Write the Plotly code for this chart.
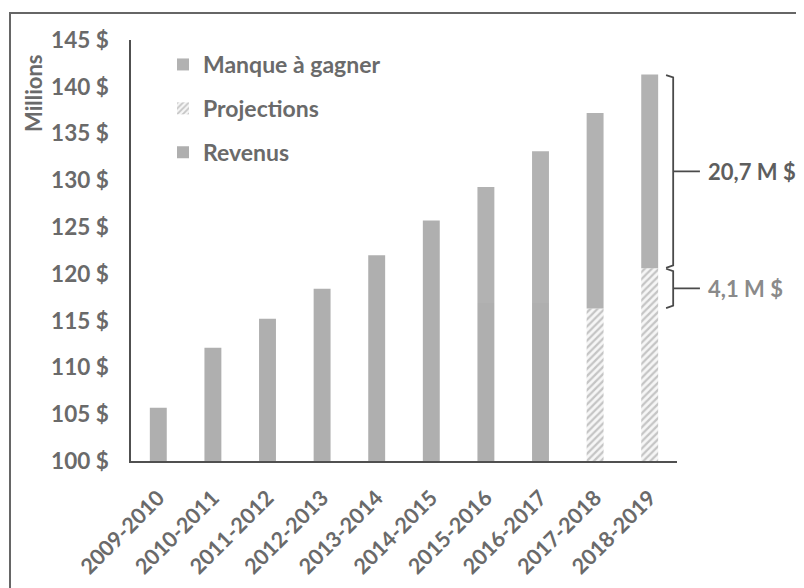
import plotly.graph_objects as go

categories = ["2009-2010", "2010-2011", "2011-2012", "2012-2013", "2013-2014",
              "2014-2015", "2015-2016", "2016-2017", "2017-2018", "2018-2019"]
revenus = [105.7, 112.1, 115.2, 118.4, 122.0, 125.7, 116.9, 116.9, None, None]
projections = [None, None, None, None, None, None, None, None, 116.3, 120.6]
manque = [None, None, None, None, None, None, 12.4, 16.2, 20.9, 20.7]
ytick_vals = [100, 105, 110, 115, 120, 125, 130, 135, 140, 145]
ytick_text = [f"{v} $" for v in ytick_vals]
bracket_labels = ["20,7 M $", "4,1 M $"]

FONT = "Lato"
TXT = "#6a6a6a"
OFF = 8  # page body margin
W, H = 804 - OFF, 588 - OFF
L, T = 131 - OFF, 40 - OFF
R, B = W - (677 - OFF), H - (461 - OFF)
N = len(categories)
PW, PH = W - L - R, H - T - B

def px(p):
    return (p - OFF - L) / PW

def py(p):
    return 1 - (p - OFF - T) / PH

def cx(c):
    return (c + 0.5) / N

fig = go.Figure()
fig.add_trace(go.Bar(
    x=categories, y=[(v - 100) if v is not None else None for v in revenus],
    base=100, name="Revenus", marker=dict(color="#afafaf", line=dict(width=0)),
    legendrank=3, legendgroup="g3", offsetgroup="a"))
fig.add_trace(go.Bar(
    x=categories, y=[(v - 100) if v is not None else None for v in projections],
    base=100, name="Projections",
    marker=dict(color="white", line=dict(width=0),
                pattern=dict(shape="/", fgcolor="#949494", bgcolor="#f6f6f6", size=5, solidity=0.45)),
    legendrank=2, legendgroup="g2", offsetgroup="a"))
manque_base = []
for r, p, m in zip(revenus, projections, manque):
    manque_base.append((r if r is not None else p) if m is not None else None)
fig.add_trace(go.Bar(
    x=categories, y=manque, base=manque_base, name="Manque à gagner",
    marker=dict(color="#b2b2b2", line=dict(width=0)),
    legendrank=1, legendgroup="g1", offsetgroup="a"))

fig.update_layout(
    width=W, height=H,
    margin=dict(l=L, r=R, t=T, b=B),
    paper_bgcolor="white", plot_bgcolor="white",
    barmode="overlay", bargap=0.69,
    font=dict(family=FONT, color=TXT),
    showlegend=True,
    legend=dict(x=px(163), y=py(43), xanchor="left", yanchor="top",
                traceorder="grouped", tracegroupgap=11,
                font=dict(family=FONT, size=23, color=TXT, weight="bold"),
                bgcolor="rgba(0,0,0,0)"),
)
fig.update_xaxes(
    type="category", range=[-0.5, N - 0.5], tickangle=-45, automargin=False,
    showline=True, linecolor="#505050", linewidth=1.5, showgrid=False,
    ticks="", ticklabelstandoff=14,
    tickfont=dict(family=FONT, size=21.5, color=TXT, weight="bold"))
fig.update_yaxes(
    range=[100, 145], tickvals=ytick_vals, ticktext=ytick_text, automargin=False,
    showline=True, linecolor="#505050", linewidth=1.5, showgrid=False,
    ticks="", ticklabelstandoff=16, zeroline=False,
    tickfont=dict(family=FONT, size=22.5, color=TXT, weight="bold"))

fig.add_annotation(text="<b>Millions</b>", textangle=-90, xref="paper", yref="paper",
                   x=px(33), y=py(94), xanchor="center", yanchor="middle",
                   showarrow=False, font=dict(family=FONT, size=22, color=TXT))

top_total = projections[9] + manque[9]
brackets = [(projections[9], top_total, bracket_labels[0], "#5e5e5e"),
            (projections[8], projections[9], bracket_labels[1], "#8a8a8a")]
xh, xv, xt, xl = cx(9.30), cx(9.43), cx(9.92), cx(10.04)
for y0, y1, lab, col in brackets:
    ym = (y0 + y1) / 2
    path = (f"M {xh},{y1 - 0.05} L {xv},{y1 - 0.3} L {xv},{y0 + 0.3} L {xh},{y0 + 0.05} "
            f"M {xv},{ym} L {xt},{ym}")
    fig.add_shape(type="path", path=path, xref="paper", yref="y",
                  line=dict(color="#4a4a4a", width=1.8))
    fig.add_annotation(text=f"<b>{lab}</b>", xref="paper", yref="y", x=xl, y=ym,
                       xanchor="left", yanchor="middle", showarrow=False,
                       font=dict(family=FONT, size=22, color=col))

fig.add_shape(type="path", xref="paper", yref="paper",
              path=(f"M {px(10)},{py(600)} L {px(10)},{py(13)} "
                    f"L {px(802)},{py(13)} L {px(802)},{py(18)}"),
              line=dict(color="#666666", width=2))

fig.write_html("out.html")
